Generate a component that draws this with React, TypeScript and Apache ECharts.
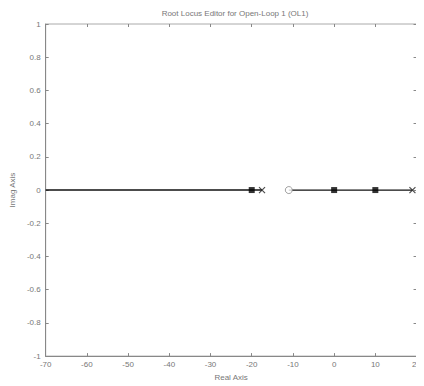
import React, { useEffect, useRef } from "react";
import * as echarts from "echarts";

const xTicks = [-70, -60, -50, -40, -30, -20, -10, 0, 10, 20];
const yTicks = [-1, -0.8, -0.6, -0.4, -0.2, 0, 0.2, 0.4, 0.6, 0.8, 1];
const locusLeft: [number, number][] = [[-70, 0], [-17.5, 0]];
const locusRight: [number, number][] = [[-11, 0], [19, 0]];
const closedLoopPoles: [number, number][] = [[-20, 0], [0, 0], [10, 0]];
const openLoopPoles: [number, number][] = [[-17.5, 0], [19, 0]];
const openLoopZeros: [number, number][] = [[-11, 0]];

const txt = "#777";
const font = "'Liberation Sans', Arial, sans-serif";

export default function App() {
  const ref = useRef<HTMLDivElement>(null);
  useEffect(() => {
    if (!ref.current) return;
    const chart = echarts.init(ref.current, undefined, { renderer: "svg" });
    const tick = { show: true, inside: true, length: 3, lineStyle: { color: "#888" } };
    chart.setOption({
      animation: false,
      backgroundColor: "#fff",
      title: {
        text: "Root Locus Editor for Open-Loop 1 (OL1)",
        left: 230,
        top: 4,
        textAlign: "center",
        textStyle: { fontSize: 8, fontWeight: "normal", color: txt, fontFamily: font },
      },
      grid: { left: 41, right: 6, top: 24, bottom: 29, show: true, borderColor: "#aaa", borderWidth: 1 },
      xAxis: [
        {
          type: "value",
          min: -70,
          max: 20,
          interval: 10,
          name: "Real Axis",
          nameLocation: "middle",
          nameGap: 16,
          nameTextStyle: { fontSize: 8, color: txt, fontFamily: font },
          axisLabel: {
            fontSize: 8,
            color: txt,
            fontFamily: font,
            margin: 4,
            formatter: (v: number) => (xTicks.includes(v) ? String(v) : ""),
          },
          axisLine: { show: true, onZero: false, lineStyle: { color: "#888", width: 1 } },
          axisTick: tick,
          splitLine: { show: false },
        },
        {
          type: "value",
          position: "top",
          min: -70,
          max: 20,
          interval: 10,
          axisLabel: { show: false },
          axisLine: { show: false, onZero: false },
          axisTick: tick,
          splitLine: { show: false },
        },
      ],
      yAxis: [
        {
          type: "value",
          min: -1,
          max: 1,
          interval: 0.2,
          name: "Imag Axis",
          nameLocation: "middle",
          nameGap: 28,
          nameTextStyle: { fontSize: 8, color: txt, fontFamily: font },
          axisLabel: {
            fontSize: 8,
            color: txt,
            fontFamily: font,
            margin: 5,
            formatter: (v: number) => {
              const r = Math.round(v * 10) / 10;
              return yTicks.some((t) => Math.abs(t - r) < 1e-9) ? String(r) : "";
            },
          },
          axisLine: { show: true, onZero: false, lineStyle: { color: "#888", width: 1 } },
          axisTick: tick,
          splitLine: { show: false },
        },
        {
          type: "value",
          position: "right",
          min: -1,
          max: 1,
          interval: 0.2,
          axisLabel: { show: false },
          axisLine: { show: false, onZero: false },
          axisTick: tick,
          splitLine: { show: false },
        },
      ],
      series: [
        {
          type: "line",
          data: locusLeft,
          symbol: "none",
          lineStyle: { color: "#111", width: 1.5 },
        },
        {
          type: "line",
          data: locusRight,
          symbol: "none",
          lineStyle: { color: "#111", width: 1.2 },
        },
        {
          type: "scatter",
          data: openLoopZeros,
          symbol: "circle",
          symbolSize: 7,
          itemStyle: { color: "#fff", borderColor: "#888", borderWidth: 1 },
          z: 5,
        },
        {
          type: "scatter",
          data: openLoopPoles,
          symbol: "path://M0,0L10,10M10,0L0,10",
          symbolSize: 6,
          itemStyle: { color: "none", borderColor: "#222", borderWidth: 1.2 },
          z: 5,
        },
        {
          type: "scatter",
          data: closedLoopPoles,
          symbol: "rect",
          symbolSize: 6,
          itemStyle: { color: "#000" },
          z: 6,
        },
      ],
    });
    return () => chart.dispose();
  }, []);
  return <div ref={ref} style={{ width: 424, height: 386, marginLeft: -8, marginTop: -8 }} />;
}
